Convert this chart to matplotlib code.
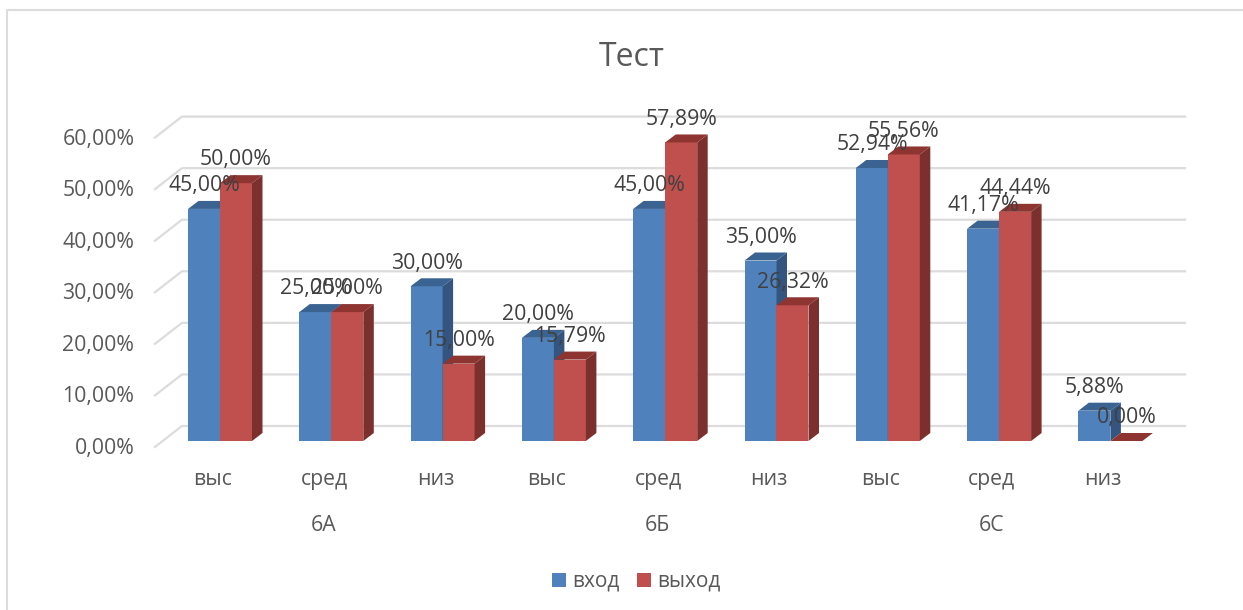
import matplotlib
matplotlib.use("Agg")
import matplotlib.pyplot as plt
from matplotlib.patches import Polygon, Rectangle
from matplotlib.lines import Line2D

levels = ["выс", "сред", "низ", "выс", "сред", "низ", "выс", "сред", "низ"]
classes = ["6А", "6Б", "6С"]
series_names = ["вход", "выход"]
vhod = [45.00, 25.00, 30.00, 20.00, 45.00, 35.00, 52.94, 41.17, 5.88]
vyhod = [50.00, 25.00, 15.00, 15.79, 57.89, 26.32, 55.56, 44.44, 0.00]
ticks = [0, 10, 20, 30, 40, 50, 60]

W, H = 1243, 610
FONT = "Open Sans"
TXT = "#595959"
LBL = "#404040"
FS = 15.3
plt.rcParams["font.family"] = [FONT, "DejaVu Sans"]

fig = plt.figure(figsize=(W / 100, H / 100), dpi=100, facecolor="white")
px0, pitch, y0, ppu = 220.0, 111.3, 441.0, 5.157
left = px0 - pitch / 2
width = pitch * 9
height = ppu * 60
ax = fig.add_axes([left / W, (H - y0) / H, width / W, height / H])
ax.set_xlim(-0.5, 8.5)
ax.set_ylim(0, 60)
ax.axis("off")

dx = 10.5 / pitch
dy = 8.0 / ppu
bw = 32.0 / pitch


def bar(x, v, front, top, side, z):
    ax.add_patch(Rectangle((x, 0), bw, v, fc=front, ec="none", zorder=z, clip_on=False))
    ax.add_patch(Polygon([(x, v), (x + bw, v), (x + bw + dx, v + dy), (x + dx, v + dy)],
                         fc=top, ec="none", zorder=z, clip_on=False))
    ax.add_patch(Polygon([(x + bw, 0), (x + bw + dx, dy), (x + bw + dx, v + dy), (x + bw, v)],
                         fc=side, ec="none", zorder=z, clip_on=False))


# Gridlines on floor / back wall
gl = "#dcdcdc"
gx = [-0.5 - 9.4 / pitch, -0.5 + 17.6 / pitch, 8.5 + 19 / pitch]
for t in ticks:
    gy = [t - 6 / ppu, t + 15 / ppu, t + 15 / ppu]
    ax.add_line(Line2D(gx, gy, color=gl, lw=1.6, zorder=1, clip_on=False))
    ax.text(-0.5 - 30.0 / pitch, t - 7.5 / ppu, f"{t},00%", ha="right", va="center",
            fontsize=FS, color=TXT, zorder=5, clip_on=False)

for i, (a, b) in enumerate(zip(vhod, vyhod)):
    bar(i - bw, a, "#4f81bd", "#3a6391", "#34557f", 2 + i * 0.01)
    bar(i, b, "#c0504d", "#8e3431", "#7b302e", 2.005 + i * 0.01)

for i, (a, b) in enumerate(zip(vhod, vyhod)):
    ax.text(i - 0.14, a + 4.5, f"{a:.2f}%".replace(".", ","), ha="center", va="center",
            fontsize=FS, color=LBL, zorder=6)
    ax.text(i + 0.144, b + 4.5, f"{b:.2f}%".replace(".", ","), ha="center", va="center",
            fontsize=FS, color=LBL, zorder=6)
    ax.text(i - 0.065, -7.4, levels[i], ha="center", va="center", fontsize=FS, color=TXT, clip_on=False)

for j, c in enumerate(classes):
    ax.text(j * 3 + 0.93, -16.4, c, ha="center", va="center", fontsize=FS, color=TXT, clip_on=False)

fig.text(632 / W, 1 - 57 / H, "Тест", ha="center", va="center", fontsize=23, color=TXT)

# Legend
sq = 14
for xp, col, name in [(552, "#4f81bd", series_names[0]), (637, "#c0504d", series_names[1])]:
    fig.add_artist(Rectangle((xp / W, 1 - 587 / H), sq / W, sq / H, fc=col, ec="none", transform=fig.transFigure))
    fig.text((xp + 20) / W, 1 - 581 / H, name, ha="left", va="center", fontsize=15, color=TXT)

# Chart frame (left and top edges only are inside the crop)
fr = "#dcdcdc"
fig.add_artist(Line2D([7 / W, 7 / W, 1], [0, 1 - 10 / H, 1 - 10 / H],
                      color=fr, lw=1.5, transform=fig.transFigure))

fig.savefig("out.png", dpi=100)
